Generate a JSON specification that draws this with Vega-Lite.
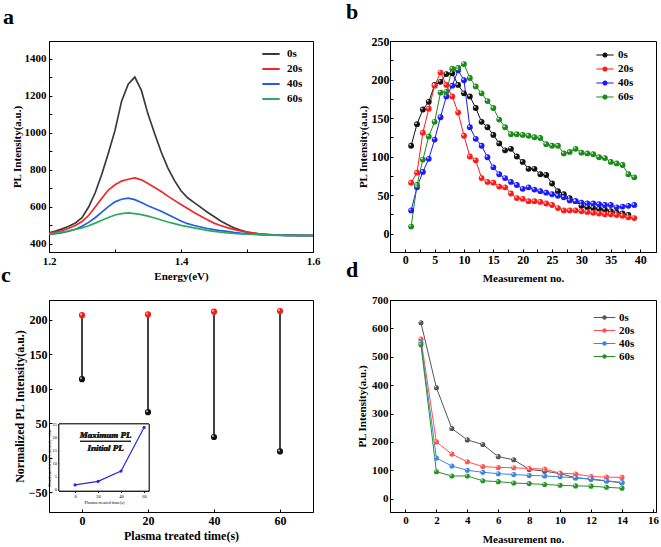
{
  "$schema": "https://vega.github.io/schema/vega-lite/v6.json",
  "background": "white",
  "padding": {"left": 0, "top": 0, "right": 0, "bottom": 0},
  "datasets": {
    "a": [
      {"E":1.20,"0s":458,"20s":455,"40s":450,"60s":451},
      {"E":1.21,"0s":468,"20s":462,"40s":454,"60s":456},
      {"E":1.22,"0s":480,"20s":471,"40s":459,"60s":463},
      {"E":1.23,"0s":494,"20s":483,"40s":467,"60s":470},
      {"E":1.24,"0s":512,"20s":498,"40s":478,"60s":477},
      {"E":1.25,"0s":540,"20s":520,"40s":494,"60s":485},
      {"E":1.26,"0s":598,"20s":552,"40s":515,"60s":497},
      {"E":1.27,"0s":675,"20s":598,"40s":540,"60s":511},
      {"E":1.28,"0s":775,"20s":645,"40s":570,"60s":527},
      {"E":1.29,"0s":890,"20s":690,"40s":600,"60s":541},
      {"E":1.30,"0s":1012,"20s":718,"40s":626,"60s":555},
      {"E":1.31,"0s":1170,"20s":738,"40s":640,"60s":562},
      {"E":1.32,"0s":1262,"20s":748,"40s":646,"60s":566},
      {"E":1.33,"0s":1300,"20s":755,"40s":638,"60s":562},
      {"E":1.34,"0s":1228,"20s":745,"40s":622,"60s":557},
      {"E":1.35,"0s":1100,"20s":725,"40s":605,"60s":549},
      {"E":1.36,"0s":995,"20s":703,"40s":590,"60s":539},
      {"E":1.37,"0s":895,"20s":682,"40s":575,"60s":528},
      {"E":1.38,"0s":810,"20s":657,"40s":558,"60s":517},
      {"E":1.39,"0s":742,"20s":634,"40s":540,"60s":508},
      {"E":1.40,"0s":686,"20s":612,"40s":522,"60s":499},
      {"E":1.41,"0s":648,"20s":590,"40s":508,"60s":492},
      {"E":1.42,"0s":622,"20s":568,"40s":498,"60s":485},
      {"E":1.43,"0s":596,"20s":548,"40s":490,"60s":479},
      {"E":1.44,"0s":570,"20s":529,"40s":482,"60s":472},
      {"E":1.45,"0s":547,"20s":511,"40s":476,"60s":466},
      {"E":1.46,"0s":523,"20s":498,"40s":470,"60s":462},
      {"E":1.47,"0s":503,"20s":487,"40s":466,"60s":458},
      {"E":1.48,"0s":486,"20s":477,"40s":461,"60s":455},
      {"E":1.49,"0s":473,"20s":469,"40s":457,"60s":453},
      {"E":1.50,"0s":463,"20s":463,"40s":454,"60s":451},
      {"E":1.51,"0s":457,"20s":457,"40s":451,"60s":450},
      {"E":1.52,"0s":452,"20s":452,"40s":449,"60s":449},
      {"E":1.53,"0s":450,"20s":449,"40s":447,"60s":448},
      {"E":1.54,"0s":448,"20s":447,"40s":446,"60s":447},
      {"E":1.55,"0s":447,"20s":446,"40s":445,"60s":446},
      {"E":1.56,"0s":446,"20s":445,"40s":444,"60s":446},
      {"E":1.57,"0s":446,"20s":445,"40s":444,"60s":445},
      {"E":1.58,"0s":445,"20s":444,"40s":443,"60s":445},
      {"E":1.59,"0s":445,"20s":444,"40s":443,"60s":445},
      {"E":1.60,"0s":445,"20s":444,"40s":443,"60s":445}
    ],
    "b": [
      {"n":1,"0s":114,"20s":66,"40s":30,"60s":9},
      {"n":2,"0s":142,"20s":79,"40s":60,"60s":63},
      {"n":3,"0s":161,"20s":131,"40s":80,"60s":96},
      {"n":4,"0s":171,"20s":162,"40s":97,"60s":126},
      {"n":5,"0s":193,"20s":192,"40s":122,"60s":145},
      {"n":6,"0s":197,"20s":209,"40s":151,"60s":183},
      {"n":7,"0s":207,"20s":193,"40s":178,"60s":184},
      {"n":8,"0s":208,"20s":178,"40s":192,"60s":214},
      {"n":9,"0s":193,"20s":157,"40s":212,"60s":215},
      {"n":10,"0s":182,"20s":127,"40s":199,"60s":220},
      {"n":11,"0s":178,"20s":100,"40s":138,"60s":202},
      {"n":12,"0s":163,"20s":95,"40s":123,"60s":191},
      {"n":13,"0s":145,"20s":72,"40s":114,"60s":182},
      {"n":14,"0s":138,"20s":67,"40s":99,"60s":172},
      {"n":15,"0s":128,"20s":66,"40s":86,"60s":163},
      {"n":16,"0s":117,"20s":61,"40s":77,"60s":148},
      {"n":17,"0s":108,"20s":60,"40s":72,"60s":138},
      {"n":18,"0s":110,"20s":52,"40s":67,"60s":129},
      {"n":19,"0s":100,"20s":46,"40s":63,"60s":129},
      {"n":20,"0s":93,"20s":45,"40s":58,"60s":128},
      {"n":21,"0s":84,"20s":42,"40s":60,"60s":127},
      {"n":22,"0s":84,"20s":42,"40s":57,"60s":125},
      {"n":23,"0s":77,"20s":41,"40s":55,"60s":124},
      {"n":24,"0s":76,"20s":39,"40s":53,"60s":116},
      {"n":25,"0s":65,"20s":37,"40s":51,"60s":114},
      {"n":26,"0s":55,"20s":33,"40s":49,"60s":114},
      {"n":27,"0s":51,"20s":30,"40s":47,"60s":104},
      {"n":28,"0s":46,"20s":30,"40s":43,"60s":106},
      {"n":29,"0s":42,"20s":30,"40s":42,"60s":110},
      {"n":30,"0s":36,"20s":29,"40s":40,"60s":105},
      {"n":31,"0s":34,"20s":28,"40s":39,"60s":104},
      {"n":32,"0s":33,"20s":27,"40s":39,"60s":103},
      {"n":33,"0s":32,"20s":26,"40s":38,"60s":99},
      {"n":34,"0s":31,"20s":25,"40s":37,"60s":98},
      {"n":35,"0s":29,"20s":25,"40s":37,"60s":93},
      {"n":36,"0s":27,"20s":24,"40s":34,"60s":91},
      {"n":37,"0s":26,"20s":23,"40s":35,"60s":89},
      {"n":38,"0s":24,"20s":21,"40s":36,"60s":77},
      {"n":39,"20s":20,"40s":37,"60s":73}
    ],
    "c": [
      {"t":0,"init":114,"max":207,"ratio":1.82},
      {"t":20,"init":66,"max":208,"ratio":3.15},
      {"t":40,"init":30,"max":212,"ratio":7.07},
      {"t":60,"init":9,"max":213,"ratio":23.7}
    ],
    "d": [
      {"n":1,"0s":620,"20s":562,"40s":550,"60s":542},
      {"n":2,"0s":391,"20s":200,"40s":143,"60s":95},
      {"n":3,"0s":247,"20s":157,"40s":115,"60s":80},
      {"n":4,"0s":207,"20s":130,"40s":100,"60s":80},
      {"n":5,"0s":191,"20s":113,"40s":93,"60s":63},
      {"n":6,"0s":148,"20s":110,"40s":88,"60s":60},
      {"n":7,"0s":137,"20s":109,"40s":85,"60s":55},
      {"n":8,"0s":103,"20s":106,"40s":82,"60s":53},
      {"n":9,"0s":97,"20s":104,"40s":80,"60s":50},
      {"n":10,"0s":88,"20s":90,"40s":77,"60s":47},
      {"n":11,"0s":74,"20s":87,"40s":73,"60s":45},
      {"n":12,"0s":68,"20s":78,"40s":70,"60s":44},
      {"n":13,"0s":62,"20s":76,"40s":63,"60s":40},
      {"n":14,"0s":56,"20s":75,"40s":57,"60s":37}
    ]
  },
  "columns": 2,
  "spacing": {"row": 48, "column": 77},
  "bounds": "flush",
  "resolve": {"scale": {"color": "independent"}, "legend": {"color": "independent"}},
  "concat": [
    {
      "width": 264, "height": 211,
      "title": {"text": "a", "dx": -46, "offset": 12},
      "data": {"name": "a"},
      "transform": [{"fold": ["0s", "20s", "40s", "60s"], "as": ["s", "I"]}],
      "mark": {"type": "line", "strokeWidth": 1.7, "clip": true},
      "encoding": {
        "x": {"field": "E", "type": "quantitative",
          "scale": {"domain": [1.2, 1.6], "nice": false, "zero": false},
          "axis": {"title": "Energy(eV)", "values": [1.2, 1.3, 1.4, 1.5, 1.6],
            "labelExpr": "round(datum.value*10)%2==0 ? format(datum.value,'.1f') : ''",
            "labelPadding": 6, "titlePadding": 4}},
        "y": {"field": "I", "type": "quantitative",
          "scale": {"domain": [355, 1495], "nice": false, "zero": false},
          "axis": {"title": "PL Intensity(a.u.)", "values": [400, 500, 600, 700, 800, 900, 1000, 1100, 1200, 1300, 1400],
            "labelExpr": "datum.value%200==0 ? datum.label : ''", "format": "d",
            "labelPadding": 6, "titlePadding": 2}},
        "color": {"field": "s", "type": "nominal", "sort": ["0s", "20s", "40s", "60s"],
          "scale": {"domain": ["0s", "20s", "40s", "60s"], "range": ["#3a3a3a", "#f02828", "#1f5fe0", "#2ea860"]},
          "legend": {"title": null, "orient": "none", "legendX": 212, "legendY": 3,
            "symbolType": "stroke", "symbolSize": 300, "symbolStrokeWidth": 2,
            "rowPadding": -4, "labelOffset": 6}}
      }
    },
    {
      "width": 266, "height": 211,
      "title": {"text": "b", "dx": -44, "offset": 11},
      "data": {"name": "b"},
      "transform": [{"fold": ["0s", "20s", "40s", "60s"], "as": ["s", "I"]}, {"filter": "isValid(datum.I)"}],
      "encoding": {
        "x": {"field": "n", "type": "quantitative",
          "scale": {"domain": [-2.6, 42.7], "nice": false, "zero": false},
          "axis": {"title": "Measurement no.", "values": [0, 2.5, 5, 7.5, 10, 12.5, 15, 17.5, 20, 22.5, 25, 27.5, 30, 32.5, 35, 37.5, 40],
            "labelExpr": "datum.value%5==0 ? datum.label : ''", "labelFontSize": 12,
            "labelPadding": 5, "titlePadding": 7}},
        "y": {"field": "I", "type": "quantitative",
          "scale": {"domain": [-24, 250], "nice": false, "zero": false},
          "axis": {"title": "PL Intensity(a.u.)", "values": [0, 25, 50, 75, 100, 125, 150, 175, 200, 225, 250],
            "labelExpr": "datum.value%50==0 ? datum.label : ''", "labelFontSize": 12,
            "labelPadding": 4, "titlePadding": 3}},
        "color": {"field": "s", "type": "nominal", "sort": ["0s", "20s", "40s", "60s"],
          "scale": {"domain": ["0s", "20s", "40s", "60s"], "range": ["#111111", "#ff1a1a", "#1a1aff", "#1b8a1b"]},
          "legend": {"title": null, "orient": "none", "legendX": 206, "legendY": 5,
            "symbolType": "M-1,-0.06H1V0.06H-1ZM0.3,0A0.3,0.3,0,1,1,-0.3,0A0.3,0.3,0,1,1,0.3,0Z",
            "symbolSize": 300, "symbolStrokeWidth": 0, "symbolOpacity": 1,
            "rowPadding": -3, "labelOffset": 4}}
      },
      "layer": [
        {"mark": {"type": "line", "strokeWidth": 1}},
        {"mark": {"type": "point", "filled": true, "size": 34, "opacity": 1}},
        {"mark": {"type": "point", "filled": true, "size": 4, "opacity": 0.75, "xOffset": -1, "yOffset": -1},
          "encoding": {"color": {"value": "white"}}}
      ]
    },
    {
      "width": 264, "height": 212,
      "title": {"text": "c", "dx": -48, "offset": 13},
      "data": {"name": "c"},
      "resolve": {"scale": {"x": "independent", "y": "independent"}, "axis": {"x": "independent", "y": "independent"}},
      "layer": [
        {
          "encoding": {
            "x": {"field": "t", "type": "quantitative",
              "scale": {"domain": [-10, 70], "nice": false, "zero": false},
              "axis": {"title": "Plasma treated time(s)", "orient": "bottom", "values": [0, 20, 40, 60],
                "labelFontSize": 12, "titleFontSize": 12, "labelPadding": 6, "titlePadding": 4}},
            "y": {"field": "init", "type": "quantitative",
              "scale": {"domain": [-79, 229], "nice": false, "zero": false},
              "axis": {"title": "Normalized PL Intensity(a.u.)", "orient": "left", "values": [-50, 0, 50, 100, 150, 200],
                "labelFontSize": 12, "titleFontSize": 12, "labelPadding": 5, "titlePadding": 2}}
          },
          "layer": [
            {"mark": {"type": "rule", "color": "#111111", "strokeWidth": 1.6}, "encoding": {"y2": {"field": "max"}}},
            {"mark": {"type": "point", "filled": true, "size": 38, "color": "#111111", "opacity": 1}},
            {"mark": {"type": "point", "filled": true, "size": 38, "color": "#ff1a1a", "opacity": 1}, "encoding": {"y": {"field": "max", "type": "quantitative"}}},
            {"mark": {"type": "point", "filled": true, "size": 4, "color": "white", "opacity": 0.75, "xOffset": -1, "yOffset": -1}},
            {"mark": {"type": "point", "filled": true, "size": 4, "color": "white", "opacity": 0.75, "xOffset": -1, "yOffset": -1}, "encoding": {"y": {"field": "max", "type": "quantitative"}}}
          ]
        },
        {
          "encoding": {
            "x": {"field": "t", "type": "quantitative",
              "scale": {"domain": [-14, 64.3], "range": [10, 100], "nice": false, "zero": false},
              "axis": {"title": "Plasma treated time(s)", "orient": "bottom", "offset": -21, "values": [0, 20, 40, 60],
                "labelFontSize": 4.5, "labelFontWeight": "normal", "titleFontSize": 4.5, "titleFontWeight": "normal",
                "labelPadding": 1, "titlePadding": 1, "tickSize": 1.5, "domainWidth": 0.8}},
            "y": {"field": "ratio", "type": "quantitative",
              "scale": {"domain": [-0.5, 25], "range": [191, 124], "nice": false, "zero": false},
              "axis": {"title": "Maximum/Initial PL intensity value", "orient": "left", "offset": -10, "values": [0, 5, 10, 15, 20, 25],
                "labelFontSize": 4.5, "labelFontWeight": "normal", "titleFontSize": 4, "titleFontWeight": "normal",
                "labelPadding": 1, "titlePadding": 1, "tickSize": 1.5, "domainWidth": 0.8}}
          },
          "layer": [
            {"mark": {"type": "rect", "fill": "white", "stroke": "#222222", "strokeWidth": 0.8},
              "encoding": {"x": {"datum": -14}, "x2": {"datum": 64.3}, "y": {"datum": -0.5}, "y2": {"datum": 25}}},
            {"mark": {"type": "line", "color": "#2a2ae0", "strokeWidth": 1.2}},
            {"mark": {"type": "point", "filled": true, "size": 10, "color": "#2a2ae0", "opacity": 1}},
            {"mark": {"type": "text", "text": "Maximum PL", "font": "Liberation Serif", "fontWeight": "bold", "fontStyle": "italic", "fontSize": 9, "color": "#222222"},
              "encoding": {"x": {"datum": 26.5}, "y": {"datum": 20.9}}},
            {"mark": {"type": "text", "text": "Initial PL", "font": "Liberation Serif", "fontWeight": "bold", "fontStyle": "italic", "fontSize": 9, "color": "#222222"},
              "encoding": {"x": {"datum": 26.5}, "y": {"datum": 16.0}}},
            {"mark": {"type": "rule", "color": "#222222", "strokeWidth": 0.8},
              "encoding": {"x": {"datum": 4.3}, "x2": {"datum": 48.6}, "y": {"datum": 18.4}}}
          ]
        }
      ]
    },
    {
      "width": 266, "height": 212,
      "title": {"text": "d", "dx": -44, "offset": 12},
      "data": {"name": "d"},
      "transform": [{"fold": ["0s", "20s", "40s", "60s"], "as": ["s", "I"]}],
      "encoding": {
        "x": {"field": "n", "type": "quantitative",
          "scale": {"domain": [-1, 16.2], "nice": false, "zero": false},
          "axis": {"title": "Measurement no.", "values": [0, 2, 4, 6, 8, 10, 12, 14, 16],
            "labelPadding": 5, "titlePadding": 8}},
        "y": {"field": "I", "type": "quantitative",
          "scale": {"domain": [-47, 700], "nice": false, "zero": false},
          "axis": {"title": "PL Intensity(a.u.)", "values": [0, 100, 200, 300, 400, 500, 600, 700],
            "labelPadding": 5, "titlePadding": 4}},
        "color": {"field": "s", "type": "nominal", "sort": ["0s", "20s", "40s", "60s"],
          "scale": {"domain": ["0s", "20s", "40s", "60s"], "range": ["#555555", "#ff5050", "#3d85e0", "#259325"]},
          "legend": {"title": null, "orient": "none", "legendX": 207, "legendY": 10,
            "symbolType": "M-1.45,-0.07H1.45V0.07H-1.45ZM0.3,0A0.3,0.3,0,1,1,-0.3,0A0.3,0.3,0,1,1,0.3,0Z",
            "symbolSize": 225, "symbolStrokeWidth": 0, "symbolOpacity": 1,
            "rowPadding": -1, "labelOffset": 7}}
      },
      "layer": [
        {"mark": {"type": "line", "strokeWidth": 1}},
        {"mark": {"type": "point", "filled": true, "size": 26, "opacity": 1}},
        {"mark": {"type": "point", "filled": true, "size": 3, "opacity": 0.75, "xOffset": -1, "yOffset": -1},
          "encoding": {"color": {"value": "white"}}}
      ]
    }
  ],
  "config": {
    "font": "Liberation Serif",
    "view": {"stroke": "#000000", "strokeWidth": 1},
    "axis": {
      "labelFont": "Liberation Serif", "labelFontWeight": "bold", "labelFontSize": 11, "labelColor": "#000000",
      "titleFont": "Liberation Serif", "titleFontWeight": "bold", "titleFontSize": 11, "titleColor": "#000000",
      "domainColor": "#000000", "tickColor": "#000000", "grid": false, "tickSize": -3,
      "labelFlush": false, "labelOverlap": false
    },
    "legend": {"labelFont": "Liberation Serif", "labelFontWeight": "bold", "labelFontSize": 11, "labelColor": "#000000"},
    "title": {"font": "Liberation Serif", "fontWeight": "bold", "fontSize": 22, "color": "#000000", "anchor": "start", "frame": "group"}
  }
}
